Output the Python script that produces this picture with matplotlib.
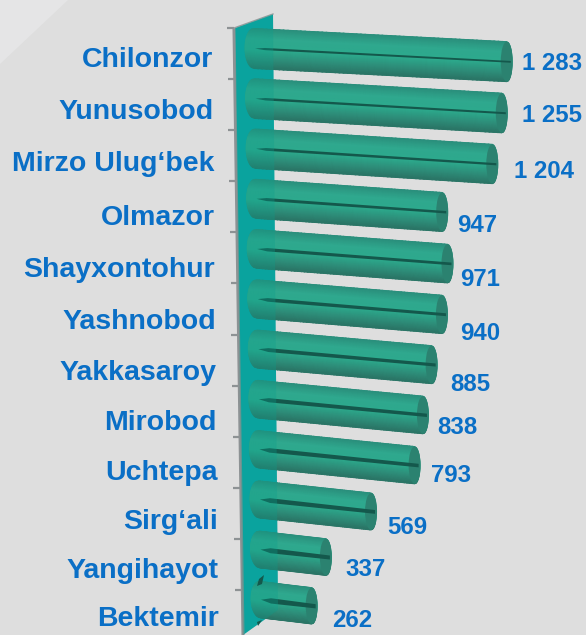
#!/usr/bin/env python3
"""Horizontal 3D-looking cylinder bars: values per district."""
import matplotlib
matplotlib.use("Agg")
import matplotlib.pyplot as plt
import numpy as np
from matplotlib.colors import LinearSegmentedColormap
from matplotlib.patches import Ellipse, Polygon

districts = ["Chilonzor", "Yunusobod", "Mirzo Ulug‘bek", "Olmazor", "Shayxontohur",
             "Yashnobod", "Yakkasaroy", "Mirobod", "Uchtepa", "Sirg‘ali",
             "Yangihayot", "Bektemir"]
values = [1283, 1255, 1204, 947, 971, 940, 885, 838, 793, 569, 337, 262]
value_labels = ["1 283", "1 255", "1 204", "947", "971", "940", "885", "838", "793",
                "569", "337", "262"]

W, H = 586, 635
X0, X_SCALE = 254.0, 0.197   # px at value 0, px per value
Y0, Y_PITCH = 48.5, 50.1     # px of first row, px per row

# label nudges in px, the picture does not place them evenly
VALUE_DX = [10, 15, 17, 10, 8, 13, 14, 9, 11, 11, 15, 15]
VALUE_DY = [15.5, 17.4, 23.3, 27.2, 31.1, 34.5, 35.4, 28.3, 26.1, 27.9, 19.5, 20.5]
NAME_DY = [12, 13.9, 15.8, 19.7, 21.6, 23, 23.9, 23.8, 23.7, 22.6, 21.5, 19.5]

TEXT = "#0a6fc6"
BG = "#dedede"
WALL = "#0aa5a6"

plt.rcParams["font.family"] = ["Liberation Sans", "DejaVu Sans"]

bar_cmap = LinearSegmentedColormap.from_list(
    "bar", [(0.0, "#2a8f7c"), (0.25, "#2fa88e"), (0.55, "#2ca98c"),
            (0.8, "#2d8c78"), (1.0, "#2a7566")])


def dx(px):
    return px / X_SCALE


def dy(px):
    return px / Y_PITCH


def frac(points):
    return [(p[0] / W, 1 - p[1] / H) for p in points]


def draw_bar(ax, row, value):
    start = row * 0.55            # px shift of the base, wall leans right
    slope = 0.052 + 0.0062 * row  # px down per px across, steeper near the bottom
    half = 20.0 - 0.17 * row
    rx = 9.0

    w = np.linspace(-1, 1, 41)
    u = np.linspace(0, 1, 60)
    uu, ww = np.meshgrid(u, w)
    bulge = np.sqrt(1 - ww ** 2)
    left = dx(start) - dx(rx) * bulge
    right = value + dx(start) + dx(rx * 0.6) * bulge
    xs = left + (right - left) * uu
    ys = row + dy(slope * (xs - dx(start)) * X_SCALE + half * ww)
    shade = (ww + 1) / 2
    ax.pcolormesh(xs, ys, shade, cmap=bar_cmap, vmin=0, vmax=1,
                  shading="gouraud", zorder=3)

    # end cap
    xe = value + dx(start)
    ye = row + dy(slope * value * X_SCALE)
    ax.add_patch(Ellipse((xe, ye), dx(12), dy(half * 2), angle=0,
                         fc="#2b8270", ec="none", zorder=4))

    # dark core line, thin ones at the top, heavy near the bottom
    thick = 1.1 + 0.14 * row
    x_a = dx(start) + dx(1)
    x_b = xe + dx(4)
    y_a = row + dy(slope * (x_a - dx(start)) * X_SCALE)
    y_b = row + dy(slope * (x_b - dx(start)) * X_SCALE)
    ax.add_patch(Polygon([(x_a, y_a), (x_a + dx(10), y_a + dy(slope * 10 - thick)),
                          (x_b, y_b - dy(thick * 0.8)), (x_b, y_b + dy(thick * 0.8)),
                          (x_a + dx(10), y_a + dy(slope * 10 + thick))],
                         fc="#14584c", ec="none", zorder=5))


fig = plt.figure(figsize=(W / 100, H / 100), dpi=100, facecolor=BG)
ax = fig.add_axes([0, 0, 1, 1])
ax.set_xlim(-X0 / X_SCALE, (W - X0) / X_SCALE)
ax.set_ylim((H - Y0) / Y_PITCH, -Y0 / Y_PITCH)
ax.axis("off")

# lighter corner top left
ax.add_patch(Polygon(frac([(0, 0), (68, 0), (0, 64)]), transform=ax.transAxes,
                     fc="#e5e5e6", ec="none", zorder=0))

# the wall and its axis line
wall_pts = [(235, 28), (273, 14), (278, 610), (243, 635)]
ax.add_patch(Polygon(frac(wall_pts), transform=ax.transAxes, fc=WALL, ec="none", zorder=1))
ax.plot([234 / W, 243 / W], [1 - 28 / H, 0], transform=ax.transAxes,
        color="#8d9294", lw=2.2, zorder=2, solid_capstyle="butt")
ax.plot([234 / W, 273 / W], [1 - 28 / H, 1 - 14 / H], transform=ax.transAxes,
        color="#9a9fa1", lw=1.0, zorder=2)
for i in range(len(values)):
    yt = 28 + 51.1 * i
    xt = 234 + 0.72 * i
    ax.plot([(xt - 7) / W, xt / W], [1 - yt / H, 1 - yt / H], transform=ax.transAxes,
            color="#8d9294", lw=1.6, zorder=2, solid_capstyle="butt")

for i, v in enumerate(values):
    draw_bar(ax, i, v)

# wall seen through the bars
ax.add_patch(Polygon(frac(wall_pts), transform=ax.transAxes, fc="#0a9f8c", ec="none",
                     alpha=0.3, zorder=6))

# dark notches behind the last bar
for pts in ([(257, 586), (259, 579), (264, 575), (262, 584)],
            [(257, 622), (262, 620), (258, 626)]):
    ax.add_patch(Polygon(frac(pts), transform=ax.transAxes, fc="#14584c", ec="none", zorder=6))

for i, name in enumerate(districts):
    ax.text(dx(213 + 0.55 * i - X0), i + dy(NAME_DY[i]), name, ha="right", va="center",
            color=TEXT, fontsize=20.5, fontweight="bold", zorder=7)

for i, (v, lab) in enumerate(zip(values, value_labels)):
    ax.text(v + dx(i * 0.55 + 5 + VALUE_DX[i]), i + dy(VALUE_DY[i]), lab,
            ha="left", va="center", color=TEXT, fontsize=17.3, fontweight="bold", zorder=7)

fig.savefig("out.png", dpi=100, facecolor=BG)
plt.close(fig)
